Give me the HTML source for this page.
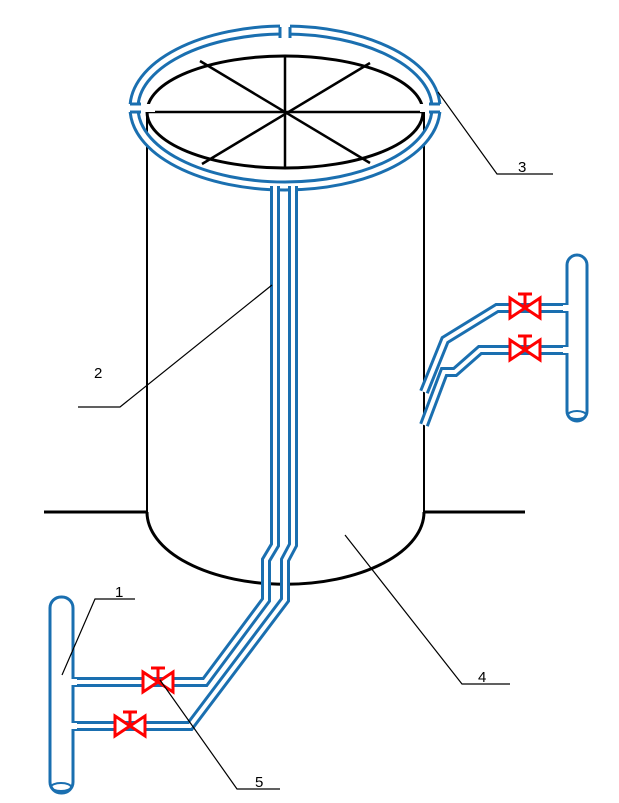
<!DOCTYPE html>
<html><head><meta charset="utf-8"><style>html,body{margin:0;padding:0;background:#fff}svg{display:block}</style></head><body>
<svg width="619" height="803" viewBox="0 0 619 803" xmlns="http://www.w3.org/2000/svg" font-family="Liberation Sans, sans-serif">
<!-- ground -->
<line x1="44" y1="512" x2="147" y2="512" stroke="#000" stroke-width="3"/>
<line x1="424" y1="512" x2="525" y2="512" stroke="#000" stroke-width="3"/>
<!-- cylinder -->
<line x1="147" y1="112" x2="147" y2="512" stroke="#000" stroke-width="2"/>
<line x1="424" y1="112" x2="424" y2="512" stroke="#000" stroke-width="2"/>
<path d="M147 512 A138 72 0 0 0 424 512" fill="none" stroke="#000" stroke-width="3"/>
<!-- top ellipse -->
<ellipse cx="285" cy="112" rx="138" ry="56" fill="#fff" stroke="#000" stroke-width="3"/>
<g stroke="#000" stroke-width="2.5">
<line x1="147" y1="112" x2="423" y2="112"/>
<line x1="285" y1="56" x2="285" y2="168"/>
<line x1="200" y1="61" x2="370" y2="163"/>
<line x1="370" y1="63" x2="202" y2="164"/>
</g>
<!-- ring pipe -->
<g fill="none">
<ellipse cx="285" cy="108" rx="151" ry="78" stroke="#1a6fb0" stroke-width="11"/>
<ellipse cx="285" cy="108" rx="151" ry="78" stroke="#fff" stroke-width="5"/>
</g>
<rect x="280" y="20" width="10" height="30" fill="#fff"/>
<rect x="120" y="104" width="35" height="8" fill="#fff"/>
<rect x="420" y="104" width="30" height="8" fill="#fff"/>
<!-- pipe caps at gaps -->
<g stroke="#1a6fb0" stroke-width="3" fill="none">
<line x1="280" y1="27" x2="280" y2="38"/><line x1="290" y1="27" x2="290" y2="38"/>
<line x1="130" y1="104" x2="141" y2="104"/><line x1="130" y1="112" x2="141" y2="112"/>
<line x1="429" y1="104" x2="440" y2="104"/><line x1="429" y1="112" x2="440" y2="112"/>
</g>
<!-- pipes -->
<g fill="none" stroke-linejoin="miter">
<path id="pA" d="M275 186 V545 L266 560 V600 L205 682 H73" stroke="#1a6fb0" stroke-width="10"/>
<path d="M275 186 V545 L266 560 V600 L205 682 H73" stroke="#fff" stroke-width="4"/>
<path d="M293 186 V545 L285 560 V600 L190 726 H73" stroke="#1a6fb0" stroke-width="10"/>
<path d="M293 186 V545 L285 560 V600 L190 726 H73" stroke="#fff" stroke-width="4"/>
<path d="M567 308 H497 L445 340 L424 392" stroke="#1a6fb0" stroke-width="10"/>
<path d="M567 308 H497 L445 340 L424 392" stroke="#fff" stroke-width="4"/>
<path d="M567 350 H480 L455 372 H444 L424 425" stroke="#1a6fb0" stroke-width="10"/>
<path d="M567 350 H480 L455 372 H444 L424 425" stroke="#fff" stroke-width="4"/>
</g>
<!-- columns -->
<rect x="50" y="597" width="23" height="196" rx="11" fill="#fff" stroke="#1a6fb0" stroke-width="3"/>
<ellipse cx="61" cy="787" rx="10" ry="4" fill="none" stroke="#1a6fb0" stroke-width="2"/>
<rect x="567" y="255" width="20" height="166" rx="10" fill="#fff" stroke="#1a6fb0" stroke-width="3"/>
<ellipse cx="577" cy="415" rx="9" ry="4" fill="none" stroke="#1a6fb0" stroke-width="2"/>
<rect x="71" y="679" width="6" height="6" fill="#fff"/>
<rect x="71" y="723" width="6" height="6" fill="#fff"/>
<rect x="563" y="305" width="6" height="6" fill="#fff"/>
<rect x="563" y="347" width="6" height="6" fill="#fff"/>
<!-- valves -->
<g fill="#fff" stroke="#f00" stroke-width="3">
<g transform="translate(158,682)"><path d="M-15 -10 L15 10 V-10 L-15 10 Z"/><line x1="0" y1="0" x2="0" y2="-14"/><line x1="-7" y1="-14" x2="7" y2="-14"/></g>
<g transform="translate(130,726)"><path d="M-15 -10 L15 10 V-10 L-15 10 Z"/><line x1="0" y1="0" x2="0" y2="-14"/><line x1="-7" y1="-14" x2="7" y2="-14"/></g>
<g transform="translate(525,308)"><path d="M-15 -10 L15 10 V-10 L-15 10 Z"/><line x1="0" y1="0" x2="0" y2="-14"/><line x1="-7" y1="-14" x2="7" y2="-14"/></g>
<g transform="translate(525,350)"><path d="M-15 -10 L15 10 V-10 L-15 10 Z"/><line x1="0" y1="0" x2="0" y2="-14"/><line x1="-7" y1="-14" x2="7" y2="-14"/></g>
</g>
<!-- leaders -->
<g stroke="#000" stroke-width="1.2" fill="none">
<polyline points="438,92 497,174 553,174"/>
<polyline points="272,285 120,407 78,407"/>
<polyline points="345,535 462,684 510,684"/>
<polyline points="62,675 95,599 135,599"/>
<polyline points="160,680 237,789 280,789"/>
</g>
<g font-size="15" fill="#000">
<text x="518" y="172">3</text>
<text x="94" y="378">2</text>
<text x="478" y="682">4</text>
<text x="115" y="597">1</text>
<text x="255" y="787">5</text>
</g>
</svg>
</body></html>
